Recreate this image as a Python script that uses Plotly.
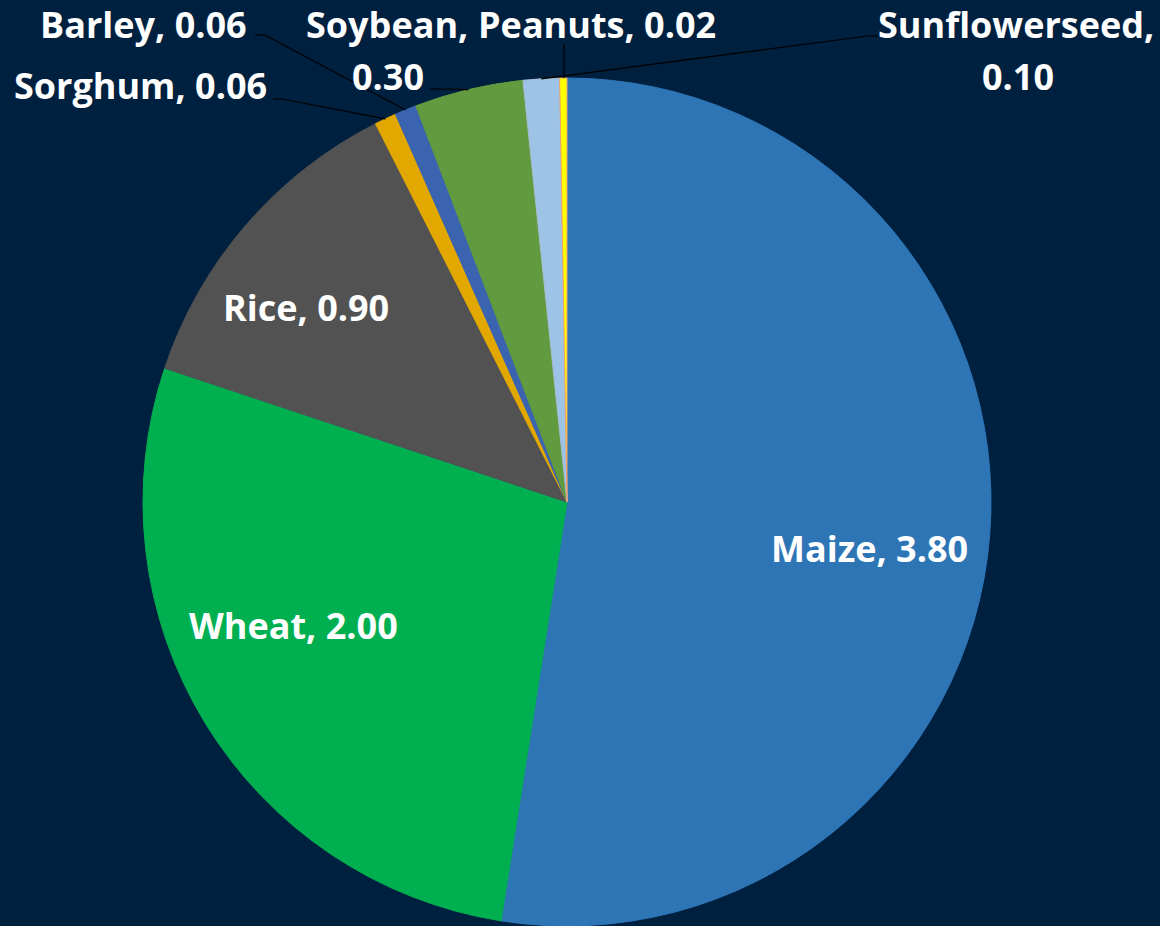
import math
import plotly.graph_objects as go

crops = ["Maize", "Wheat", "Rice", "Sorghum", "Barley", "Soybean", "Sunflowerseed", "Peanuts"]
values = [3.80, 2.00, 0.90, 0.06, 0.06, 0.30, 0.10, 0.02]
colors = ["#2E75B6", "#00B050", "#525252", "#E2A800", "#3B64B0", "#629B3F", "#9DC3E6", "#FFFF00"]
line_colors = ["#2E75B6", "#00B050", "#525252", "#E2A800", "#3B64B0", "#629B3F", "#A9BDD3", "#F0A070"]

W, H = 1160, 926
CX, CY, R = 567, 502, 424
BG = "#002040"

fig = go.Figure(go.Pie(
    labels=crops, values=values, sort=False, direction="clockwise", rotation=0,
    marker=dict(colors=colors, line=dict(color=line_colors, width=1)),
    textinfo="none", hoverinfo="label+value", showlegend=False,
    domain=dict(x=[(CX - R) / W, (CX + R) / W], y=[1 - (CY + R) / H, 1 - (CY - R) / H]),
))

def px(x, y):
    return x / W, 1 - y / H

total = sum(values)
cum = 0
edge = {}
for c, v in zip(crops, values):
    mid = (cum + v / 2) / total * 2 * math.pi
    edge[c] = (CX + R * math.sin(mid), CY - R * math.cos(mid))
    cum += v

FONT = dict(family="Open Sans, Calibri, Arial", size=36, color="white")

def label(text, x, y):
    ax, ay = px(x, y)
    fig.add_annotation(x=ax, y=ay, xref="paper", yref="paper", text="<b>%s</b>" % text,
                       showarrow=False, font=FONT, xanchor="center", yanchor="middle")

def fmt(c):
    return "%s, %.2f" % (c, values[crops.index(c)])

label(fmt("Maize"), 869, 548)
label(fmt("Wheat"), 293, 625)
label(fmt("Rice"), 306, 307)
label(fmt("Sorghum"), 140, 86)
label(fmt("Barley"), 143, 24)
label("Soybean,", 387, 24)
label("0.30", 388, 77)
label(fmt("Peanuts"), 597, 24)
label("Sunflowerseed,", 1016, 24)
label("%.2f" % values[crops.index("Sunflowerseed")], 1018, 77)

def leader(points):
    for (x0, y0), (x1, y1) in zip(points[:-1], points[1:]):
        a0, b0 = px(x0, y0)
        a1, b1 = px(x1, y1)
        fig.add_shape(type="line", xref="paper", yref="paper", x0=a0, y0=b0, x1=a1, y1=b1,
                      line=dict(color="black", width=1.2))

leader([(273, 99), (282, 99), edge["Sorghum"]])
leader([(255, 35), (265, 35), edge["Barley"]])
leader([(430, 89), (440, 89), edge["Soybean"]])
leader([(564, 44), (564, edge["Peanuts"][1])])
leader([(878, 36), (868, 36), edge["Sunflowerseed"]])

fig.update_layout(width=W, height=H, margin=dict(l=0, r=0, t=0, b=0),
                  paper_bgcolor=BG, plot_bgcolor=BG)
fig.write_html("out.html", config={"displayModeBar": False},
               post_script="document.body.style.margin='0';document.body.style.background='%s';" % BG)
